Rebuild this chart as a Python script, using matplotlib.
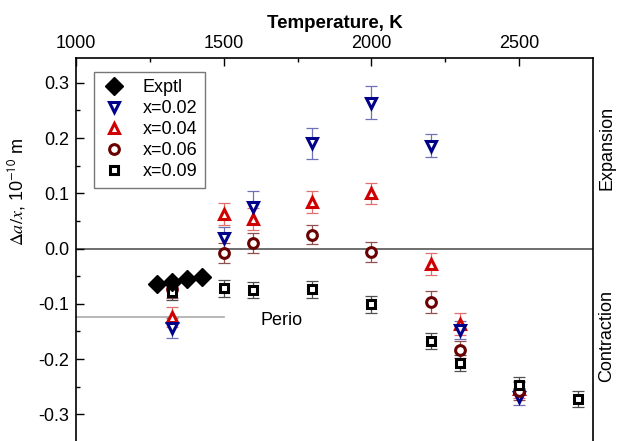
import matplotlib
matplotlib.use("Agg")
import matplotlib.pyplot as plt
import numpy as np

plt.rcParams['font.family'] = ['Liberation Sans', 'DejaVu Sans']
plt.rcParams['mathtext.fontset'] = 'stix'

# Data
exptl_T = [1275, 1325, 1375, 1425]
exptl_v = [-0.064, -0.060, -0.056, -0.051]

T02 = [1325, 1500, 1600, 1800, 2000, 2200, 2300, 2500]
v02 = [-0.144, 0.019, 0.075, 0.191, 0.264, 0.186, -0.148, -0.268]
e02 = [0.018, 0.020, 0.030, 0.028, 0.030, 0.021, 0.016, 0.016]

T04 = [1325, 1500, 1600, 1800, 2000, 2200, 2300, 2500]
v04 = [-0.124, 0.063, 0.053, 0.084, 0.100, -0.028, -0.137, -0.255]
e04 = [0.018, 0.020, 0.020, 0.020, 0.019, 0.020, 0.020, 0.016]

T06 = [1325, 1500, 1600, 1800, 2000, 2200, 2300, 2500]
v06 = [-0.073, -0.008, 0.010, 0.025, -0.006, -0.097, -0.183, -0.258]
e06 = [0.016, 0.018, 0.018, 0.017, 0.018, 0.020, 0.016, 0.016]

T09 = [1325, 1500, 1600, 1800, 2000, 2200, 2300, 2500, 2700]
v09 = [-0.078, -0.072, -0.075, -0.074, -0.101, -0.167, -0.207, -0.247, -0.272]
e09 = [0.015, 0.015, 0.015, 0.015, 0.015, 0.015, 0.015, 0.015, 0.015]

perio_v = -0.124
perio_T = [1000, 1500]

fig = plt.figure(figsize=(6.19, 4.41), dpi=100)
ax = fig.add_axes([76/619, -0.002, (593-76)/619, (441-58)/441 + 0.002])

ax.axhline(0.0, color='#555555', lw=1.2, zorder=1)
ax.plot(perio_T, [perio_v, perio_v], color='#aaaaaa', lw=1.2, zorder=1, clip_on=False)
ax.text(1697, -0.13, 'Perio', fontsize=13, ha='center', va='center')

series = [
    (T04, v04, e04, '^', '#d00000', '#e07070', 'x=0.04', 7),
    (T02, v02, e02, 'v', '#000088', '#7070b8', 'x=0.02', 7),
    (T06, v06, e06, 'o', '#6a0000', '#905050', 'x=0.06', 7),
    (T09, v09, e09, 's', '#000000', '#505050', 'x=0.09', 5.5),
]
handles = {}
for T, v, e, m, c, ec, lab, ms in series:
    ax.errorbar(T, v, yerr=e, fmt='none', ecolor=ec, elinewidth=0.9, capsize=4, capthick=0.9, zorder=2)
    h, = ax.plot(T, v, linestyle='none', marker=m, markersize=ms, markerfacecolor='white',
                 markeredgecolor=c, markeredgewidth=2.2, zorder=3, label=lab)
    handles[lab] = h

hx, = ax.plot(exptl_T, exptl_v, linestyle='none', marker='D', markersize=9, color='black', zorder=4, label='Exptl')

ax.set_xlim(1000, 2750)
ax.set_ylim(-0.35, 0.345)

ax.xaxis.tick_top()
ax.xaxis.set_label_position('top')
ax.set_xticks([1000, 1500, 2000, 2500])
ax.set_xticks([1250, 1750, 2250], minor=True)
ax.set_yticks([0.3, 0.2, 0.1, 0.0, -0.1, -0.2, -0.3])
ax.set_yticklabels(['0.3', '0.2', '0.1', '0.0', '-0.1', '-0.2', '-0.3'])
ax.set_yticks(np.arange(-0.35, 0.35, 0.1), minor=True)
ax.tick_params(axis='both', which='major', direction='in', length=6, width=1, labelsize=13)
ax.tick_params(axis='both', which='minor', direction='in', length=3, width=1)
ax.tick_params(axis='x', which='both', top=True, bottom=False, pad=4)
ax.tick_params(axis='y', which='both', left=True, right=False, pad=5)
ax.spines['bottom'].set_visible(False)
for s in ['top', 'left', 'right']:
    ax.spines[s].set_linewidth(1.2)

ax.set_xlabel('Temperature, K', fontsize=13.5, fontweight='bold', labelpad=5)
fig.text(17/619, 1 - 192/441, r'$\Delta a/x$, 10$^{\mathsf{-10}}$ m', rotation=90,
         ha='center', va='center', fontsize=13)

fig.text(607/619, 1 - 148/441, 'Expansion', rotation=90, ha='center', va='center', fontsize=13)
fig.text(607/619, 1 - 336/441, 'Contraction', rotation=90, ha='center', va='center', fontsize=13)

leg = ax.legend([hx, handles['x=0.02'], handles['x=0.04'], handles['x=0.06'], handles['x=0.09']],
                ['Exptl', 'x=0.02', 'x=0.04', 'x=0.06', 'x=0.09'],
                loc='upper left', bbox_to_anchor=(0.035, 0.963), borderaxespad=0,
                fontsize=13, fancybox=False, edgecolor='#777777', framealpha=1,
                handlelength=1.4, handletextpad=0.9, labelspacing=0.22, borderpad=0.4)
leg.get_frame().set_linewidth(1.0)

fig.savefig('out.png', dpi=100)
